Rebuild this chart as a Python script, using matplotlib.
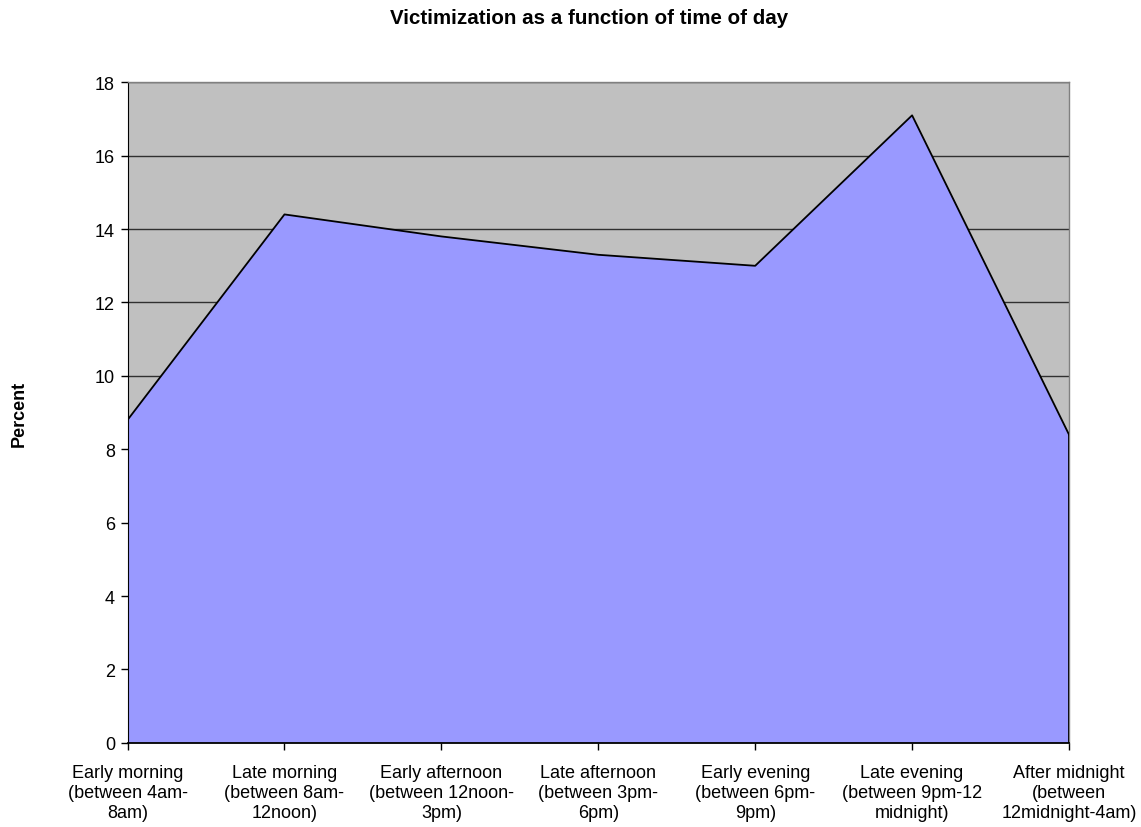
import matplotlib
matplotlib.use("Agg")
import matplotlib.pyplot as plt

categories = [
    "Early morning\n(between 4am-\n8am)",
    "Late morning\n(between 8am-\n12noon)",
    "Early afternoon\n(between 12noon-\n3pm)",
    "Late afternoon\n(between 3pm-\n6pm)",
    "Early evening\n(between 6pm-\n9pm)",
    "Late evening\n(between 9pm-12\nmidnight)",
    "After midnight\n(between\n12midnight-4am)",
]
percent = [8.8, 14.4, 13.8, 13.3, 13.0, 17.1, 8.4]
yticks = [0, 2, 4, 6, 8, 10, 12, 14, 16, 18]

plt.rcParams['font.family'] = ['Liberation Sans', 'DejaVu Sans']

fig = plt.figure(figsize=(11.41, 8.28), dpi=100)
L, B, W, H = 0.1118, 0.1016, 0.8251, 0.7978
ax = fig.add_axes([L, B, W, H])
ax.set_facecolor('#C0C0C0')

x = list(range(len(categories)))
ax.set_xlim(0, len(categories) - 1)
ax.set_ylim(0, 18)
ax.set_yticks(yticks)
ax.yaxis.grid(True, color='#303030', linewidth=1.0)
ax.set_axisbelow(True)

ax.fill_between(x, percent, 0, facecolor='#9999FF', edgecolor='none', zorder=2)
ax.plot(x, percent, color='black', linewidth=1.3, zorder=3)
ax.plot([x[-1], x[-1]], [0, percent[-1]], color='black', linewidth=1.3, zorder=3)

ax.set_xticks(x)
ax.set_xticklabels(categories, fontsize=13, linespacing=1.25)
ax.tick_params(axis='x', length=5, width=1, direction='out', pad=10)
ax.tick_params(axis='y', length=5, width=1, direction='out', labelsize=13, pad=4)

for side in ['top', 'right']:
    ax.spines[side].set_color('#808080')
    ax.spines[side].set_linewidth(1.0)
ax.spines['left'].set_color('black')
ax.spines['bottom'].set_color('black')
ax.spines['bottom'].set_linewidth(1.3)

fig.text(19 / 1141, B + H / 2, 'Percent', rotation=90, ha='center', va='center',
         fontsize=13, fontweight='bold')
fig.text(589 / 1141, 1 - 18 / 828, 'Victimization as a function of time of day',
         ha='center', va='center', fontsize=14.8, fontweight='bold')

fig.savefig('out.png', dpi=100)
